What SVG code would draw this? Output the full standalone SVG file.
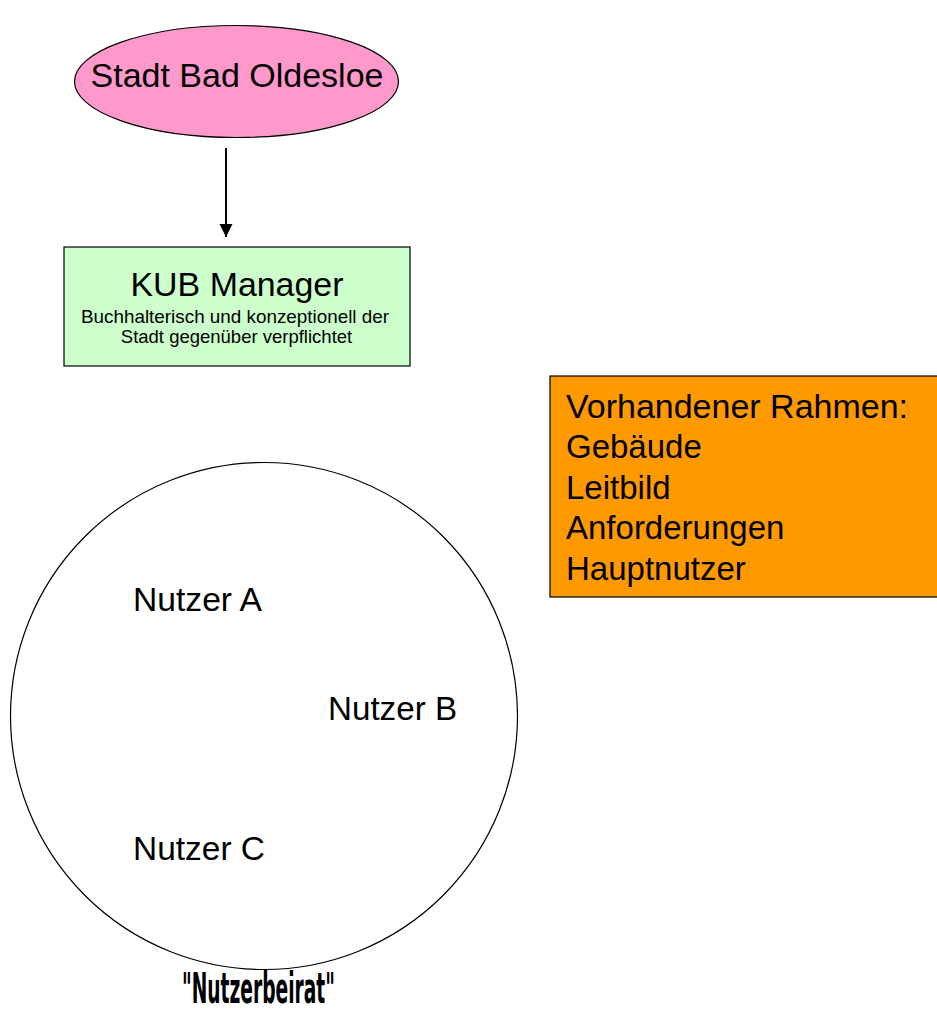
<svg xmlns="http://www.w3.org/2000/svg" width="937" height="1012" viewBox="0 0 937 1012">
<defs>
<style>
text{font-family:"Liberation Sans",Arial,sans-serif;fill:#000}
.shape{stroke:#000;stroke-width:1.2}
</style>
<marker id="ah" markerWidth="14" markerHeight="14" refX="13" refY="6.5" orient="auto" markerUnits="userSpaceOnUse">
<path d="M0,0 L13,6.5 L0,13 Z" fill="#000"/>
</marker>
</defs>
<rect width="937" height="1012" fill="#fff"/>
<g id="connectors">
<line x1="226" y1="148" x2="226" y2="237" stroke="#000" stroke-width="2" marker-end="url(#ah)"/>
</g>
<g id="stadt">
<ellipse class="shape" cx="236.5" cy="81.5" rx="162" ry="56" fill="#FF99CC"/>
<text x="237" y="87" font-size="33.5" text-anchor="middle" textLength="293" lengthAdjust="spacingAndGlyphs">Stadt Bad Oldesloe</text>
</g>
<g id="kub">
<rect class="shape" x="64" y="247" width="346" height="119" fill="#CCFFCC" stroke="#333"/>
<text x="237" y="296" font-size="33" text-anchor="middle" textLength="213" lengthAdjust="spacingAndGlyphs">KUB Manager</text>
<text x="235" y="323" font-size="18.5" text-anchor="middle" textLength="308" lengthAdjust="spacingAndGlyphs">Buchhalterisch und konzeptionell der</text>
<text x="236.5" y="343" font-size="18.5" text-anchor="middle">Stadt gegenüber verpflichtet</text>
</g>
<g id="rahmen">
<rect class="shape" x="550" y="376" width="400" height="221" fill="#FF9900" stroke="#333"/>
<text x="566" y="418" font-size="33" textLength="342" lengthAdjust="spacingAndGlyphs">Vorhandener Rahmen:</text>
<text x="566" y="458" font-size="33">Gebäude</text>
<text x="566" y="499" font-size="33">Leitbild</text>
<text x="566" y="539" font-size="33">Anforderungen</text>
<text x="566" y="580" font-size="33">Hauptnutzer</text>
</g>
<g id="nutzerbeirat">
<circle class="shape" cx="264" cy="716" r="253.5" fill="#fff"/>
<text x="182" y="1003" font-size="43" font-weight="bold" style="font-family:'DejaVu Sans Condensed','DejaVu Sans',sans-serif" textLength="153" lengthAdjust="spacingAndGlyphs">"Nutzerbeirat"</text>
</g>
<g id="nutzer-a">
<text x="133" y="611" font-size="33" textLength="129" lengthAdjust="spacingAndGlyphs">Nutzer A</text>
</g>
<g id="nutzer-b">
<text x="328" y="720" font-size="33" textLength="129" lengthAdjust="spacingAndGlyphs">Nutzer B</text>
</g>
<g id="nutzer-c">
<text x="133" y="860" font-size="33" textLength="132" lengthAdjust="spacingAndGlyphs">Nutzer C</text>
</g>
</svg>
